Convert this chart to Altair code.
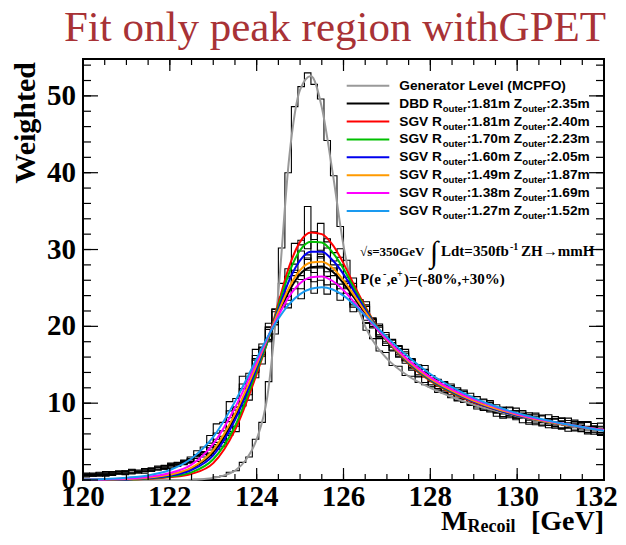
import altair as alt
import pandas as pd

# ---------------- axis / binning ----------------
X_MIN, X_MAX = 120.0, 132.0
Y_MAX = 54.8
BIN_WIDTH = 0.15
N_BINS = 80
x_tick_labels = [120, 122, 124, 126, 128, 130, 132]
y_tick_labels = [0, 10, 20, 30, 40, 50]

# ---------------- series ----------------
series_keys = ["gen", "dbd", "sgv181", "sgv170", "sgv160", "sgv149", "sgv138", "sgv127"]
series_colors = ["#999999", "#000000", "#ff0000", "#00c000", "#0000ee", "#ff9a00", "#ff00ff", "#1a9af0"]
detector = ["DBD", "SGV", "SGV", "SGV", "SGV", "SGV", "SGV"]
r_outer = ["1.81", "1.81", "1.70", "1.60", "1.49", "1.38", "1.27"]
z_outer = ["2.35", "2.40", "2.23", "2.05", "1.87", "1.69", "1.52"]
gen_label = "Generator Level (MCPFO)"

# generator-level fit curve
gen_curve_x = [120, 121, 122, 122.5, 122.75, 123, 123.25, 123.5, 123.75, 124, 124.25, 124.5, 124.75,
               125, 125.25, 125.5, 125.75, 126, 126.25, 126.5, 126.75, 127, 127.5, 128, 128.5, 129,
               129.5, 130, 130.5, 131, 131.5, 132]
gen_curve_y = [0, 0, 0, 0.02, 0.1, 0.25, 0.6, 1.2, 2.6, 5.3, 11, 24.5, 42, 50.8, 52.6, 48.5, 40,
               30.5, 24, 20, 17.5, 15.8, 13.5, 12.0, 10.8, 9.8, 9.0, 8.3, 7.7, 7.2, 6.8, 6.5]

# reconstructed fit curves
fit_x = [120, 120.5, 121, 121.5, 122, 122.5, 123, 123.5, 124, 124.25, 124.5, 124.75, 125, 125.25,
         125.5, 125.75, 126, 126.25, 126.5, 126.75, 127, 127.5, 128, 128.5, 129, 129.5, 130, 130.5,
         131, 131.5, 132]
fit_dbd = [0.02, 0.05, 0.12, 0.3, 0.65, 1.5, 3.6, 8.2, 14.7, 18.1, 21.5, 24.6, 26.8, 27.7, 27.8, 27.1,
           25.6, 23.7, 21.7, 19.8, 18.1, 15.3, 13.1, 11.5, 10.2, 9.2, 8.4, 7.8, 7.3, 6.9, 6.5]
fit_sgv181 = [0.0, 0.0, 0.05, 0.15, 0.35, 0.8, 2.2, 6.5, 13.8, 18.0, 23.0, 27.8, 31.0, 32.2, 32.0, 30.6,
              28.2, 25.3, 22.6, 20.2, 18.2, 15.1, 12.9, 11.3, 10.1, 9.2, 8.4, 7.8, 7.3, 6.9, 6.5]
fit_sgv170 = [0.0, 0.0, 0.05, 0.2, 0.45, 1.0, 2.7, 7.0, 14.2, 18.0, 22.6, 27.0, 29.9, 31.0, 30.9, 29.6,
              27.5, 24.9, 22.4, 20.1, 18.2, 15.2, 13.0, 11.4, 10.2, 9.2, 8.4, 7.8, 7.3, 6.9, 6.5]
fit_sgv160 = [0.0, 0.02, 0.08, 0.25, 0.55, 1.3, 3.2, 7.8, 14.6, 18.3, 22.2, 26.0, 28.6, 29.7, 29.7, 28.6,
              26.8, 24.5, 22.2, 20.0, 18.2, 15.3, 13.1, 11.5, 10.2, 9.2, 8.4, 7.8, 7.3, 6.9, 6.5]
fit_sgv149 = [0.02, 0.05, 0.12, 0.3, 0.7, 1.6, 3.9, 8.6, 15.0, 18.4, 21.9, 25.1, 27.3, 28.3, 28.4, 27.6,
              26.0, 24.0, 21.9, 19.9, 18.2, 15.4, 13.2, 11.6, 10.3, 9.3, 8.5, 7.8, 7.3, 6.9, 6.5]
fit_sgv138 = [0.03, 0.08, 0.18, 0.4, 0.9, 2.0, 4.7, 9.4, 15.4, 18.5, 21.4, 23.9, 25.6, 26.4, 26.5, 25.9,
              24.7, 23.1, 21.4, 19.8, 18.3, 15.6, 13.4, 11.8, 10.5, 9.5, 8.6, 7.9, 7.4, 6.9, 6.5]
fit_sgv127 = [0.05, 0.12, 0.3, 0.6, 1.3, 2.8, 5.6, 10.2, 15.8, 18.6, 21.0, 22.9, 24.2, 24.9, 25.1, 24.8,
              24.0, 22.8, 21.4, 20.0, 18.6, 16.0, 13.8, 12.1, 10.7, 9.6, 8.7, 8.0, 7.4, 6.9, 6.4]

# histograms (80 bins of 0.15 GeV from 120 to 132)
hist_gen = [0, 0, 0, 0, 0, 0, 0, 0, 0, 0, 0, 0, 0, 0, 0, 0,
            0.0, 0.1, 0.1, 0.2,
            0.4, 0.5, 1.0, 1.2, 2.3, 3.0, 5.3, 7.5, 12.8, 19.0, 30.2, 40.0, 48.6, 51.2, 53.0, 51.5,
            49.6, 44.2, 39.6, 33.0, 28.6, 24.1, 22.0, 19.5, 18.4, 16.8,
            16.6, 14.9, 14.8, 13.6, 13.5, 12.7, 12.4, 12.1, 11.4, 11.4, 10.7, 10.6, 10.1, 10.1, 9.5,
            9.6, 9.0, 9.1, 8.6, 8.7, 8.2, 8.3, 7.8, 7.9, 7.5, 7.6, 7.2, 7.3, 6.9, 7.0, 6.7, 6.8, 6.5, 6.5]
hist_dbd = [0.4, 0.7, 0.5, 0.9, 0.6, 1.0, 0.8, 1.2, 0.9, 1.3, 1.1, 1.6, 1.4, 2.0, 1.8, 2.5,
            2.2, 3.3, 3.0, 4.5,
            4.9, 5.2, 7.6, 9.5, 10.2, 13.4, 15.6, 16.1, 18.0, 21.9, 23.0, 23.4, 27.0, 26.1, 28.9, 27.0,
            29.1, 26.5, 27.6, 24.9, 25.6, 22.8, 23.3, 20.5, 21.0, 18.4,
            18.9, 16.8, 16.9, 16.7, 14.6, 13.5, 14.1, 13.1, 11.9, 12.7, 11.8, 10.3, 11.2, 10.1, 10.85,
            9.25, 9.35, 9.8, 8.25, 9.0, 9.35, 8.05, 7.45, 8.3, 7.85, 6.8, 7.95, 8.0, 6.85, 6.4, 7.1, 7.6, 6.25, 5.8]
hist_sgv181 = [0.7, 0.5, 0.9, 0.6, 1.1, 0.8, 0.7, 1.3, 1.0, 1.4, 1.2, 1.3, 1.9, 1.5, 2.3, 2.0,
               2.6, 2.4, 3.6, 3.2,
               4.0, 4.4, 5.8, 6.3, 9.6, 10.4, 14.2, 15.1, 19.6, 20.8, 25.6, 26.5, 30.8, 30.6, 35.6, 31.3,
               33.4, 31.0, 29.6, 30.1, 26.4, 26.3, 23.1, 23.2, 20.3, 19.9,
               17.8, 17.9, 17.4, 15.2, 15.2, 15.0, 12.7, 12.8, 13.0, 11.6, 12.5, 11.3, 10.1, 10.7, 9.85,
               10.55, 8.85, 8.9, 9.45, 9.4, 8.05, 8.45, 7.25, 8.5, 7.65, 8.0, 6.75, 7.6, 7.75, 6.5, 6.7, 7.5, 7.05, 5.9]
hist_sgv170 = [0.5, 0.8, 0.6, 0.7, 0.9, 1.2, 1.0, 0.8, 1.3, 1.1, 1.5, 1.3, 1.7, 1.9, 1.8, 2.3,
               2.8, 3.0, 3.3, 3.9,
               4.4, 4.9, 6.3, 7.0, 10.2, 11.1, 13.3, 17.2, 18.2, 22.3, 23.3, 27.5, 28.1, 31.2, 30.1, 32.3,
               29.9, 31.4, 28.5, 29.0, 25.8, 25.6, 22.7, 22.8, 20.0, 20.3,
               18.6, 18.3, 16.0, 15.6, 15.7, 13.4, 14.0, 13.6, 12.2, 11.3, 11.7, 11.7, 11.7, 9.9, 9.25,
               9.95, 10.05, 8.8, 9.25, 8.1, 8.25, 9.05, 8.55, 7.2, 7.45, 8.5, 7.55, 6.8, 6.35, 7.6, 7.3, 6.5, 6.85, 7.0]
hist_sgv160 = [0.8, 0.5, 0.7, 1.0, 0.6, 0.9, 1.1, 1.0, 1.2, 0.9, 1.4, 1.6, 1.5, 2.1, 2.0, 2.4,
               2.4, 3.1, 3.7, 3.5,
               4.6, 5.7, 6.0, 9.1, 9.7, 13.2, 14.0, 17.7, 18.3, 22.2, 22.6, 26.3, 26.6, 29.8, 28.7, 31.0,
               28.9, 30.2, 27.3, 28.0, 25.1, 25.2, 22.2, 22.6, 19.8, 20.1,
               17.5, 17.3, 17.1, 16.5, 14.6, 14.6, 14.4, 12.4, 12.4, 12.4, 10.8, 11.8, 10.5, 11.3, 10.25,
               9.25, 10.15, 9.3, 8.05, 8.3, 8.95, 8.55, 8.75, 7.7, 7.15, 7.3, 8.25, 6.6, 7.25, 7.4, 7.5, 6.0, 6.15, 7.4]
hist_sgv149 = [0.6, 0.9, 0.7, 0.5, 1.0, 0.8, 1.2, 0.9, 1.1, 1.5, 1.2, 1.7, 1.4, 1.8, 2.2, 2.1,
               2.7, 2.8, 3.5, 4.2,
               5.3, 5.4, 8.1, 8.6, 11.9, 12.3, 15.8, 16.3, 19.9, 20.5, 23.8, 23.9, 27.3, 26.6, 29.3, 27.6,
               29.4, 27.1, 28.0, 25.5, 25.9, 23.2, 23.5, 20.8, 21.1, 18.6,
               18.5, 16.9, 17.5, 15.5, 14.3, 14.8, 13.9, 12.2, 13.1, 12.1, 11.1, 12.0, 10.6, 9.8, 10.45,
               10.45, 9.15, 8.3, 9.45, 8.9, 8.05, 8.85, 7.95, 8.7, 7.05, 7.9, 6.95, 7.7, 8.05, 6.8, 6.3, 6.9, 7.35, 6.2]
hist_sgv138 = [0.7, 0.6, 1.0, 0.8, 0.7, 1.1, 0.9, 1.3, 1.0, 1.2, 1.6, 1.4, 1.8, 1.6, 2.1, 2.5,
               2.3, 3.2, 3.6, 4.8,
               6.1, 6.4, 9.0, 9.5, 12.5, 13.1, 16.2, 16.6, 19.9, 20.2, 23.2, 22.9, 25.8, 24.9, 27.3, 25.8,
               27.6, 25.4, 26.6, 24.3, 24.9, 22.5, 22.9, 20.4, 20.9, 18.7,
               18.0, 18.2, 16.1, 16.2, 15.8, 13.7, 13.4, 13.6, 11.7, 12.3, 12.1, 10.8, 11.5, 9.7, 10.15,
               9.55, 10.35, 8.7, 9.15, 8.4, 9.05, 7.45, 8.45, 8.0, 8.35, 7.1, 7.15, 8.1, 6.75, 7.2, 7.6, 6.2, 6.95, 6.6]
hist_sgv127 = [0.9, 0.7, 0.8, 1.1, 0.9, 0.8, 1.2, 1.4, 1.1, 1.5, 1.3, 1.8, 1.6, 2.2, 2.0, 2.6,
               3.0, 3.8, 4.3, 5.8,
               7.3, 7.5, 10.2, 10.6, 13.5, 13.9, 17.0, 17.3, 20.4, 20.2, 23.0, 22.4, 24.9, 23.6, 26.1, 24.3,
               26.0, 24.2, 25.5, 23.4, 24.3, 21.9, 22.6, 20.4, 20.9, 18.9,
               19.2, 17.6, 16.3, 17.0, 15.6, 14.2, 14.9, 13.3, 12.3, 12.8, 12.3, 10.4, 11.1, 10.9, 9.65,
               9.05, 10.05, 9.4, 8.65, 9.5, 7.85, 8.65, 8.15, 7.4, 8.45, 7.4, 7.95, 6.7, 7.45, 7.8, 6.5, 7.0, 5.95, 6.9]

hists = [hist_gen, hist_dbd, hist_sgv181, hist_sgv170, hist_sgv160, hist_sgv149, hist_sgv138, hist_sgv127]
fits = [fit_dbd, fit_sgv181, fit_sgv170, fit_sgv160, fit_sgv149, fit_sgv138, fit_sgv127]

# ---------------- layout (pixels) ----------------
W, H = 521, 421
XS = alt.Scale(domain=[X_MIN, X_MAX], nice=False, zero=False)
YS = alt.Scale(domain=[0, Y_MAX], nice=False, zero=False)
SERIF = "Liberation Serif"
SANS = "Liberation Sans"

# ---------------- tables ----------------
edges = [round(X_MIN + BIN_WIDTH * i, 3) for i in range(N_BINS + 1)]
rows = []
for key, vals in zip(series_keys, hists):
    for i, e in enumerate(edges):
        rows.append({"name": key, "x": e, "y": vals[min(i, N_BINS - 1)]})
hist_df = pd.DataFrame(rows)

hist_layer = alt.Chart(hist_df).mark_line(
    interpolate="step-after", color="black", strokeWidth=1.1
).encode(
    x=alt.X("x:Q", scale=XS, axis=None),
    y=alt.Y("y:Q", scale=YS, axis=None),
    detail="name:N",
)

curve_layers = []
gen_df = pd.DataFrame({"x": gen_curve_x, "y": gen_curve_y})
curve_layers.append(alt.Chart(gen_df).mark_line(
    interpolate="monotone", color=series_colors[0], strokeWidth=2
).encode(x=alt.X("x:Q", scale=XS, axis=None), y=alt.Y("y:Q", scale=YS, axis=None)))
for vals, col in zip(fits, series_colors[1:]):
    df = pd.DataFrame({"x": fit_x, "y": vals})
    curve_layers.append(alt.Chart(df).mark_line(
        interpolate="monotone", color=col, strokeWidth=2
    ).encode(x=alt.X("x:Q", scale=XS, axis=None), y=alt.Y("y:Q", scale=YS, axis=None)))

# ---------------- frame ticks (inward) ----------------
x_major = x_tick_labels
x_minor = [X_MIN + 0.5 * k for k in range(25)]
y_major = y_tick_labels
y_minor = [2 * k for k in range(28)]


def xticks(vals, length, top):
    df = pd.DataFrame({"v": vals})
    y0, y1 = (0, length) if top else (H, H - length)
    return alt.Chart(df).mark_rule(color="black", strokeWidth=1.2).encode(
        x=alt.X("v:Q", scale=XS, axis=None), y=alt.value(y0), y2=alt.value(y1))


def yticks(vals, length, right):
    df = pd.DataFrame({"v": vals})
    x0, x1 = (W, W - length) if right else (0, length)
    return alt.Chart(df).mark_rule(color="black", strokeWidth=1.2).encode(
        y=alt.Y("v:Q", scale=YS, axis=None), x=alt.value(x0), x2=alt.value(x1))


tick_layers = [
    xticks(x_major, 12, False), xticks(x_minor, 6, False),
    xticks(x_major, 12, True), xticks(x_minor, 6, True),
    yticks(y_major, 15, False), yticks(y_minor, 8, False),
    yticks(y_major, 15, True), yticks(y_minor, 8, True),
]

# ---------------- tick labels ----------------
LBL = 29
xlab_df = pd.DataFrame({"v": x_tick_labels[:-1]})
xlabels = alt.Chart(xlab_df).mark_text(
    font=SERIF, fontWeight="bold", fontSize=LBL, align="center", baseline="top", color="black"
).encode(x=alt.X("v:Q", scale=XS, axis=None), y=alt.value(H + 3), text=alt.Text("v:Q", format="d"))
xlab_last = alt.Chart(pd.DataFrame({"v": x_tick_labels[-1:]})).mark_text(
    font=SERIF, fontWeight="bold", fontSize=LBL, align="center", baseline="top", color="black", dx=-8
).encode(x=alt.X("v:Q", scale=XS, axis=None), y=alt.value(H + 3), text=alt.Text("v:Q", format="d"))
ylabels = alt.Chart(pd.DataFrame({"v": y_tick_labels})).mark_text(
    font=SERIF, fontWeight="bold", fontSize=LBL, align="right", baseline="middle", color="black"
).encode(y=alt.Y("v:Q", scale=YS, axis=None), x=alt.value(-7), text=alt.Text("v:Q", format="d"))

# ---------------- legend ----------------
leg_y = [26.7 + 17.9 * k for k in range(8)]
leg_line_df = pd.DataFrame({"py": leg_y, "c": series_colors})
leg_lines = alt.Chart(leg_line_df).mark_rule(strokeWidth=2).encode(
    x=alt.value(263.7), x2=alt.value(306.3),
    y=alt.Y("py:Q", scale=None, axis=None),
    color=alt.Color("c:N", scale=None, legend=None))

FS, FSS = 13.7, 9.6
pieces = [{"t": gen_label, "px": 316.3, "py": leg_y[0], "fs": FS}]
for k in range(7):
    yy = leg_y[k + 1]
    pieces += [
        {"t": detector[k] + " R", "px": 316.3, "py": yy, "fs": FS},
        {"t": "outer", "px": 359.7, "py": yy + 5, "fs": FSS},
        {"t": ":" + r_outer[k] + "m Z", "px": 383.7, "py": yy, "fs": FS},
        {"t": "outer", "px": 439.3, "py": yy + 5, "fs": FSS},
        {"t": ":" + z_outer[k] + "m", "px": 463.3, "py": yy, "fs": FS},
    ]
leg_text = alt.Chart(pd.DataFrame(pieces)).mark_text(
    font=SANS, fontWeight="bold", align="left", baseline="middle", color="black"
).encode(
    x=alt.X("px:Q", scale=None, axis=None), y=alt.Y("py:Q", scale=None, axis=None),
    size=alt.Size("fs:Q", scale=None, legend=None), text="t:N")

# ---------------- annotation + axis titles ----------------
ann = [
    {"t": "√s=350GeV", "px": 277, "py": 197, "fs": 13},
    {"t": "∫", "px": 347, "py": 203, "fs": 30},
    {"t": "Ldt=350fb", "px": 358, "py": 197, "fs": 15},
    {"t": "-1", "px": 427, "py": 191, "fs": 10},
    {"t": "ZH→mmH", "px": 438, "py": 197, "fs": 15},
    {"t": "P(e", "px": 277, "py": 224.5, "fs": 15},
    {"t": "-", "px": 300, "py": 218, "fs": 10},
    {"t": ",e", "px": 303.7, "py": 224.5, "fs": 15},
    {"t": "+", "px": 314, "py": 218, "fs": 10},
    {"t": ")=(-80%,+30%)", "px": 321, "py": 224.5, "fs": 15},
    {"t": "M", "px": 358, "py": 471, "fs": 28},
    {"t": "Recoil", "px": 384.5, "py": 473, "fs": 18},
]
ann_text = alt.Chart(pd.DataFrame(ann)).mark_text(
    font=SERIF, fontWeight="bold", align="left", baseline="alphabetic", color="black"
).encode(
    x=alt.X("px:Q", scale=None, axis=None), y=alt.Y("py:Q", scale=None, axis=None),
    size=alt.Size("fs:Q", scale=None, legend=None), text="t:N")

gev_text = alt.Chart(pd.DataFrame({"t": ["[GeV]"]})).mark_text(
    font=SERIF, fontWeight="bold", fontSize=28, align="right", baseline="alphabetic", color="black"
).encode(x=alt.value(W), y=alt.value(471), text="t:N")

ytitle = alt.Chart(pd.DataFrame({"t": ["Weighted"]})).mark_text(
    font=SERIF, fontWeight="bold", fontSize=30, align="right", baseline="alphabetic",
    angle=270, color="black"
).encode(x=alt.value(-48), y=alt.value(3), text="t:N")

title = alt.Chart(pd.DataFrame({"t": ["Fit only peak region withGPET"]})).mark_text(
    font=SERIF, fontSize=43, align="center", baseline="alphabetic", color="#a83236"
).encode(x=alt.value(252), y=alt.value(-18), text="t:N")

chart = alt.layer(
    hist_layer, *curve_layers, *tick_layers, xlabels, xlab_last, ylabels,
    leg_lines, leg_text, ann_text, gev_text, ytitle, title
).properties(
    width=W, height=H,
    autosize=alt.AutoSizeParams(type="none"),
    padding={"left": 75, "top": 51, "right": 14, "bottom": 57},
    background="white",
).configure_view(stroke="black", strokeWidth=2)

chart.save("out.html", embed_options={"renderer": "svg", "actions": False})
